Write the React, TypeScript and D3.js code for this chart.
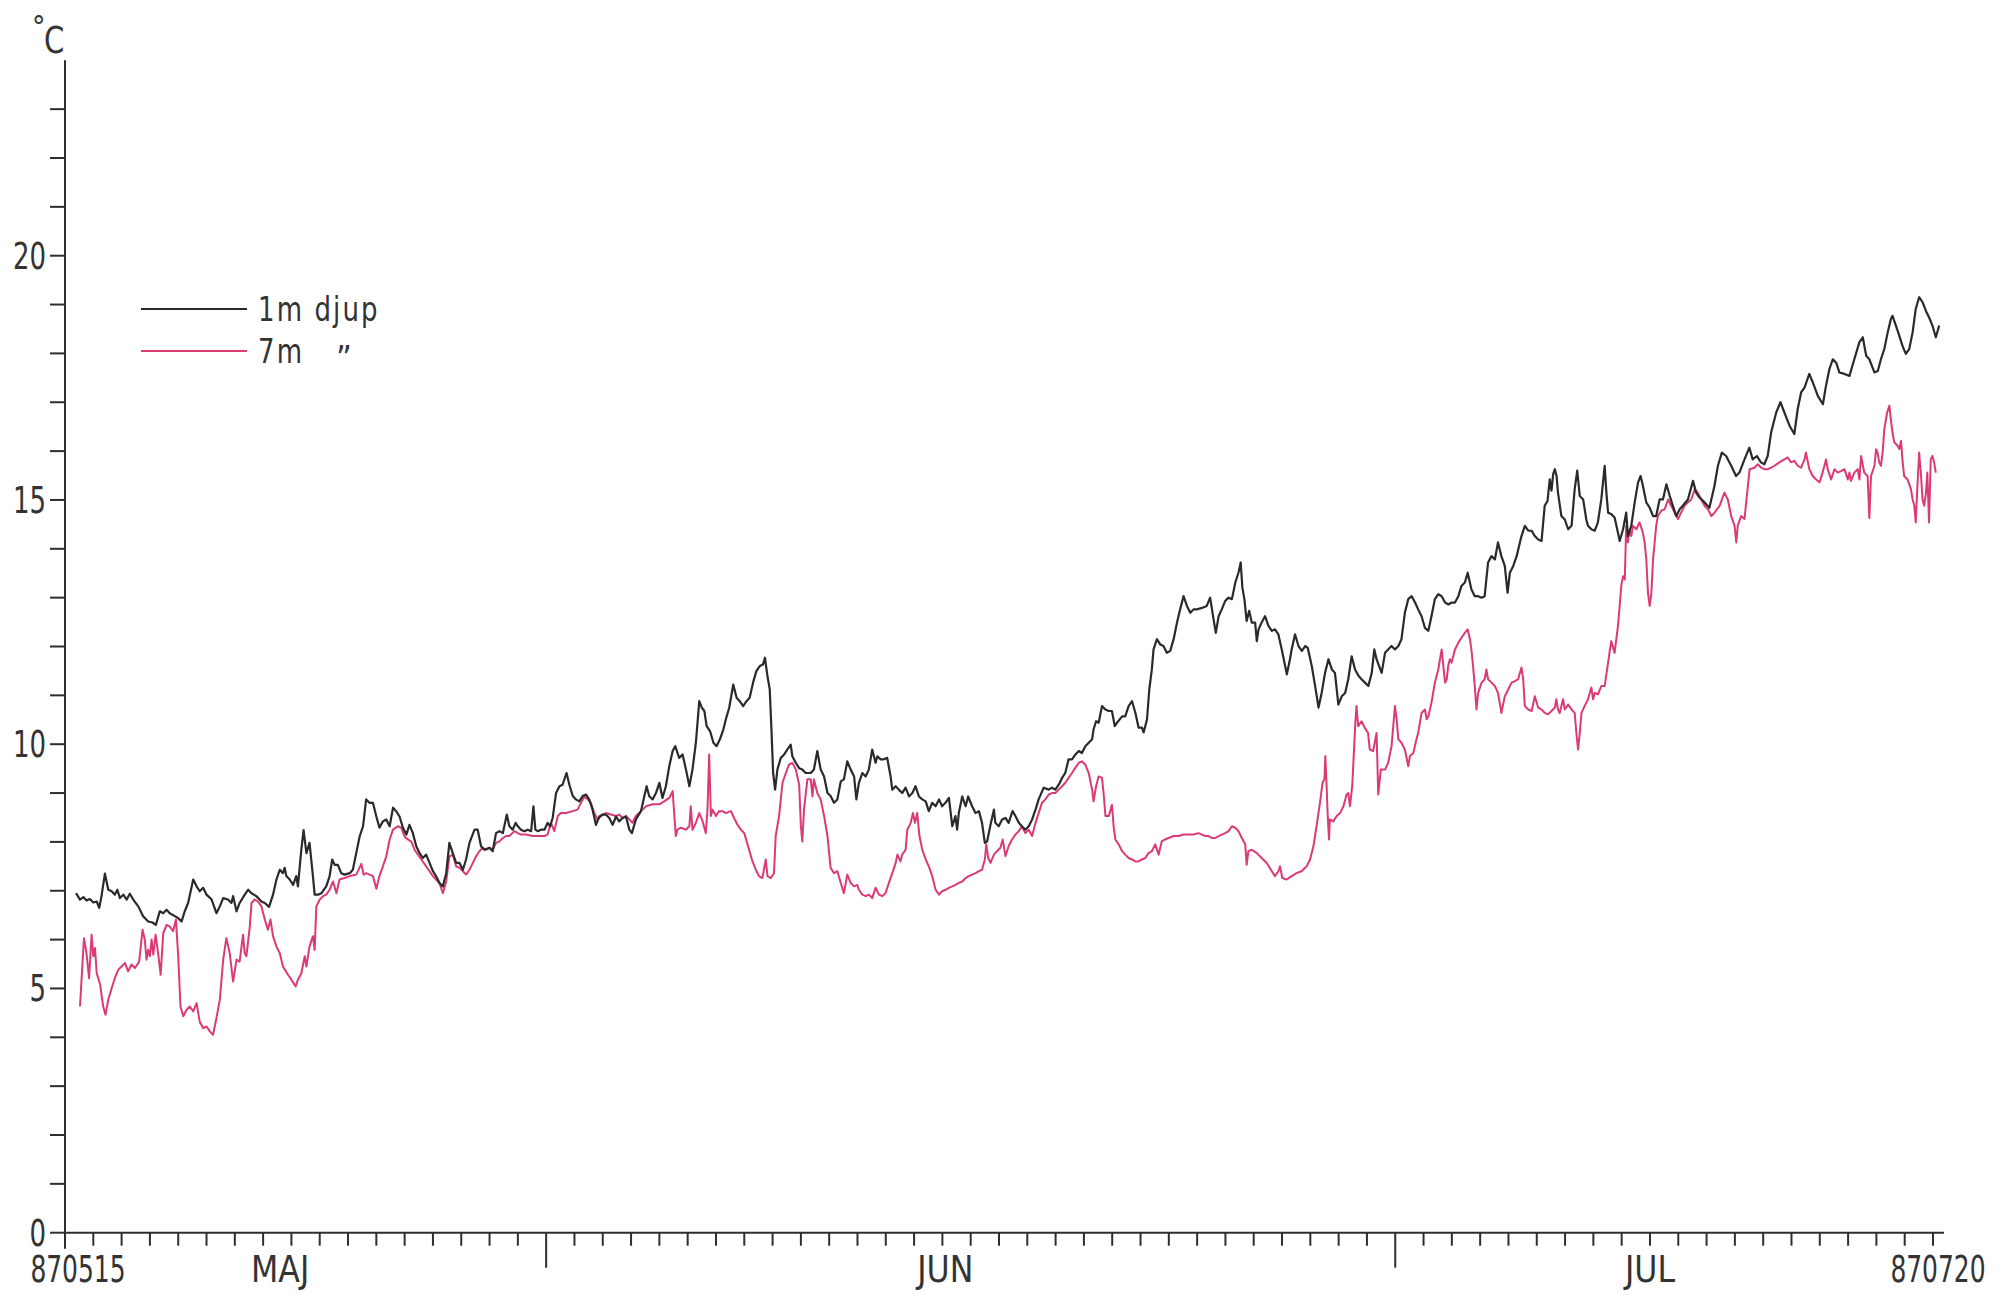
import React from "react";
import * as d3 from "d3";

// Days since 870515 (1987-05-15), temperature in °C
const depth1m: [number, number][] = [
[0.39,6.95],[0.53,6.82],[0.65,6.87],[0.76,6.80],[0.88,6.83],[1.00,6.76],[1.12,6.78],[1.21,6.65],[1.29,6.89],[1.41,7.35],[1.53,7.02],[1.65,6.99],[1.76,6.92],[1.85,7.02],[1.94,6.85],[2.06,6.92],[2.18,6.82],[2.29,6.94],[2.41,6.82],[2.59,6.68],[2.76,6.48],[2.94,6.37],[3.09,6.35],[3.21,6.30],[3.35,6.58],[3.47,6.54],[3.59,6.61],[3.70,6.54],[3.88,6.48],[4.00,6.44],[4.12,6.37],[4.23,6.58],[4.35,6.75],[4.53,7.23],[4.65,7.09],[4.76,6.99],[4.88,7.06],[5.00,6.92],[5.18,6.82],[5.35,6.54],[5.47,6.68],[5.59,6.85],[5.76,6.82],[5.88,6.75],[5.94,6.89],[6.06,6.58],[6.17,6.75],[6.35,6.92],[6.47,7.02],[6.59,6.95],[6.76,6.89],[6.94,6.78],[7.06,6.75],[7.21,6.67],[7.35,6.92],[7.47,7.23],[7.59,7.43],[7.70,7.36],[7.76,7.47],[7.82,7.30],[7.94,7.23],[8.06,7.12],[8.17,7.30],[8.23,7.09],[8.35,7.84],[8.43,8.24],[8.53,7.77],[8.64,7.98],[8.76,7.30],[8.82,6.92],[8.94,6.92],[9.06,6.95],[9.23,7.09],[9.35,7.30],[9.44,7.64],[9.53,7.53],[9.64,7.53],[9.76,7.36],[9.88,7.33],[10.06,7.36],[10.17,7.43],[10.29,7.77],[10.41,8.11],[10.53,8.32],[10.64,8.87],[10.76,8.80],[10.88,8.80],[11.00,8.52],[11.11,8.29],[11.23,8.42],[11.35,8.46],[11.47,8.32],[11.59,8.70],[11.70,8.63],[11.82,8.52],[11.94,8.29],[12.06,8.15],[12.17,8.35],[12.29,8.18],[12.41,7.91],[12.53,7.77],[12.64,7.67],[12.76,7.74],[12.88,7.57],[13.00,7.40],[13.11,7.30],[13.23,7.16],[13.35,7.09],[13.47,7.36],[13.58,7.98],[13.70,7.77],[13.82,7.57],
[13.94,7.57],[14.06,7.43],[14.17,7.64],[14.29,7.98],[14.47,8.25],[14.58,8.25],[14.70,7.91],[14.82,7.84],[15.00,7.88],[15.11,7.81],[15.23,8.18],[15.35,8.22],[15.47,8.18],[15.61,8.56],[15.70,8.32],[15.82,8.25],[15.92,8.39],[16.00,8.32],[16.11,8.25],[16.23,8.22],[16.35,8.25],[16.47,8.22],[16.55,8.73],[16.62,8.25],[16.70,8.22],[16.82,8.25],[16.94,8.25],[17.05,8.39],[17.14,8.32],[17.23,8.49],[17.35,9.00],[17.47,9.14],[17.58,9.17],[17.72,9.41],[17.82,9.17],[17.94,8.94],[18.05,8.87],[18.17,8.83],[18.29,8.94],[18.41,8.97],[18.52,8.87],[18.64,8.66],[18.76,8.35],[18.88,8.52],[19.00,8.56],[19.11,8.56],[19.23,8.49],[19.35,8.35],[19.47,8.52],[19.58,8.42],[19.70,8.49],[19.82,8.52],[19.94,8.25],[20.03,8.18],[20.17,8.46],[20.35,8.63],[20.47,8.94],[20.55,9.14],[20.64,8.94],[20.76,8.87],[20.88,9.00],[21.00,9.21],[21.11,8.90],[21.23,9.14],[21.35,9.55],[21.47,9.86],[21.56,9.96],[21.70,9.72],[21.82,9.79],[21.94,9.48],[22.06,9.14],[22.17,9.48],[22.29,10.03],[22.41,10.88],[22.50,10.75],[22.59,10.68],[22.67,10.37],[22.79,10.27],[22.91,10.03],[23.02,9.96],[23.14,10.10],[23.26,10.30],[23.35,10.51],[23.47,10.75],[23.61,11.22],[23.73,10.95],[23.84,10.88],[23.96,10.78],[24.08,10.88],[24.19,10.95],[24.31,11.26],[24.43,11.50],[24.55,11.60],[24.66,11.63],[24.73,11.77],[24.82,11.39],[24.90,11.12],[24.96,10.30],[25.02,9.41],[25.09,9.07],[25.17,9.48],[25.29,9.72],[25.41,9.79],[25.52,9.89],[25.64,9.99],[25.70,9.75],[25.82,9.62],[25.94,9.51],[26.05,9.48],[26.17,9.41],[26.35,9.41],[26.46,9.48],[26.58,9.86],[26.70,9.48],[26.82,9.34],[26.94,9.00],[27.05,8.94],[27.17,8.80],[27.29,8.87],[27.41,9.24],[27.52,9.28],[27.64,9.65],[27.76,9.48],[27.88,9.34],[27.96,8.87],[28.05,9.21],[28.17,9.41],[28.29,9.34],[28.40,9.48],[28.52,9.89],[28.64,9.62],
[28.70,9.75],[28.82,9.69],[28.93,9.69],[29.05,9.72],[29.17,9.34],[29.23,9.07],[29.35,9.14],[29.46,9.07],[29.58,9.00],[29.70,9.11],[29.82,8.93],[29.94,9.00],[30.05,9.14],[30.17,8.93],[30.29,8.87],[30.41,8.83],[30.52,8.63],[30.64,8.80],[30.76,8.73],[30.88,8.87],[30.99,8.73],[31.11,8.80],[31.23,8.90],[31.35,8.32],[31.46,8.53],[31.52,8.25],[31.58,8.59],[31.70,8.93],[31.82,8.73],[31.91,8.93],[32.05,8.73],[32.17,8.59],[32.29,8.63],[32.40,8.39],[32.50,7.98],[32.58,8.01],[32.70,8.35],[32.82,8.66],[32.87,8.39],[32.99,8.32],[33.11,8.46],[33.23,8.49],[33.34,8.39],[33.48,8.63],[33.58,8.53],[33.70,8.39],[33.81,8.32],[33.93,8.25],[34.05,8.32],[34.17,8.46],[34.29,8.66],[34.40,8.87],[34.58,9.11],[34.76,9.07],[34.87,9.11],[34.99,9.07],[35.11,9.17],[35.23,9.31],[35.34,9.41],[35.46,9.69],[35.58,9.69],[35.70,9.79],[35.82,9.86],[35.93,9.82],[36.05,9.96],[36.17,10.03],[36.29,10.10],[36.34,10.30],[36.43,10.47],[36.52,10.44],[36.64,10.78],[36.76,10.71],[36.88,10.68],[36.99,10.68],[37.09,10.37],[37.17,10.44],[37.35,10.57],[37.46,10.57],[37.58,10.78],[37.70,10.88],[37.82,10.64],[37.93,10.34],[38.05,10.34],[38.11,10.24],[38.23,10.51],[38.31,11.12],[38.40,11.53],[38.46,11.94],[38.58,12.15],[38.70,12.04],[38.81,12.01],[38.93,11.87],[39.05,11.91],[39.17,12.15],[39.29,12.49],[39.40,12.76],[39.52,13.03],[39.64,12.83],[39.76,12.69],[39.87,12.76],[39.99,12.76],[40.17,12.79],[40.34,12.83],[40.46,13.00],[40.58,12.56],[40.66,12.28],[40.76,12.62],[40.87,12.76],[40.99,12.93],[41.11,13.00],[41.23,12.97],[41.35,13.31],[41.46,13.51],[41.54,13.72],[41.60,13.20],[41.67,12.97],[41.75,12.52],[41.84,12.73],[41.93,12.49],[42.05,12.49],[42.11,12.11],
[42.17,12.35],[42.28,12.49],[42.40,12.62],[42.52,12.42],[42.64,12.32],[42.75,12.35],[42.87,12.25],[42.99,11.94],[43.11,11.60],[43.17,11.43],[43.28,11.74],[43.34,11.94],[43.46,12.25],[43.58,12.01],[43.70,11.91],[43.82,12.01],[43.91,11.97],[44.05,11.60],[44.17,11.19],[44.29,10.75],[44.40,11.05],[44.52,11.46],[44.64,11.74],[44.76,11.53],[44.87,11.46],[44.99,10.81],[45.11,10.98],[45.23,11.05],[45.34,11.33],[45.46,11.80],[45.58,11.53],[45.70,11.40],[45.81,11.33],[45.93,11.26],[46.05,11.19],[46.17,11.46],[46.26,11.94],[46.34,11.74],[46.43,11.60],[46.52,11.46],[46.64,11.87],[46.75,11.94],[46.87,12.01],[46.99,11.94],[47.11,12.01],[47.22,12.15],[47.34,12.69],[47.46,12.97],[47.58,13.03],[47.70,12.90],[47.81,12.76],[47.93,12.62],[48.05,12.38],[48.17,12.32],[48.28,12.62],[48.40,12.97],[48.52,13.07],[48.64,13.03],[48.76,12.90],[48.88,12.86],[48.99,12.90],[49.11,12.90],[49.23,13.03],[49.34,13.24],[49.46,13.31],[49.56,13.51],[49.69,13.17],[49.81,13.03],[49.93,13.03],[50.05,13.00],[50.16,13.03],[50.28,13.72],[50.40,13.85],[50.52,13.78],[50.63,14.13],[50.75,13.85],[50.87,13.65],[50.97,13.10],[51.05,13.51],[51.17,13.65],[51.29,13.85],[51.46,14.26],[51.58,14.47],[51.70,14.37],[51.82,14.37],[51.93,14.26],[52.05,14.19],[52.17,14.16],[52.28,14.88],[52.38,14.98],[52.46,15.42],[52.52,15.19],[52.58,15.53],[52.64,15.63],[52.70,15.49],[52.75,15.15],[52.87,14.67],[52.99,14.60],[53.11,14.40],[53.23,14.47],[53.34,15.22],[53.43,15.60],[53.52,15.08],[53.64,15.01],[53.75,14.60],[53.81,14.47],[53.93,14.40],[54.05,14.37],
[54.16,14.54],[54.28,15.01],[54.40,15.70],[54.46,15.15],[54.52,14.74],[54.63,14.71],[54.75,14.64],[54.87,14.33],[54.93,14.16],[55.05,14.40],[55.16,14.74],[55.22,14.26],[55.34,14.47],[55.46,14.95],[55.58,15.36],[55.67,15.49],[55.75,15.29],[55.87,14.95],[55.99,14.84],[56.11,14.67],[56.22,14.67],[56.34,15.01],[56.46,15.01],[56.58,15.32],[56.70,15.08],[56.81,14.88],[56.93,14.67],[57.05,14.81],[57.16,14.88],[57.34,15.01],[57.52,15.39],[57.63,15.15],[57.75,15.05],[57.93,14.95],[58.10,14.84],[58.28,15.29],[58.40,15.70],[58.54,15.97],[58.69,15.90],[58.87,15.70],[59.04,15.49],[59.16,15.56],[59.34,15.83],[59.51,16.07],[59.63,15.83],[59.78,15.90],[59.92,15.77],[60.04,15.73],[60.16,15.90],[60.28,16.38],[60.46,16.79],[60.61,17.00],[60.75,16.79],[60.93,16.52],[61.10,16.35],[61.22,16.86],[61.34,17.20],[61.46,17.30],[61.63,17.58],[61.75,17.41],[61.93,17.13],[62.11,16.96],[62.22,17.34],[62.34,17.68],[62.46,17.88],[62.58,17.81],[62.69,17.61],[62.87,17.58],[63.05,17.54],[63.22,17.88],[63.40,18.23],[63.52,18.33],[63.64,17.95],[63.75,17.88],[63.93,17.61],[64.05,17.64],[64.16,17.88],[64.28,18.09],[64.40,18.43],[64.51,18.70],[64.57,18.77],[64.69,18.57],[64.81,18.36],[64.92,18.16],[65.04,17.99],[65.16,18.09],[65.28,18.43],[65.39,18.91],[65.51,19.15],[65.63,19.05],[65.75,18.87],[65.86,18.74],[65.98,18.57],[66.10,18.33],[66.22,18.57]
];

const depth7m: [number, number][] = [
[0.53,4.63],[0.67,6.03],[0.76,5.72],[0.85,5.21],[0.94,6.10],[1.00,5.66],[1.06,5.83],[1.12,5.31],[1.24,5.08],[1.35,4.63],[1.43,4.46],[1.53,4.77],[1.65,5.01],[1.76,5.21],[1.88,5.38],[2.00,5.45],[2.12,5.52],[2.23,5.35],[2.35,5.49],[2.47,5.42],[2.62,5.55],[2.74,6.20],[2.82,6.00],[2.88,5.59],[2.94,5.79],[3.00,5.66],[3.06,6.00],[3.12,5.69],[3.20,6.10],[3.29,5.72],[3.38,5.28],[3.47,6.13],[3.59,6.30],[3.70,6.27],[3.82,6.17],[3.92,6.41],[4.00,5.66],[4.08,4.63],[4.18,4.43],[4.29,4.56],[4.41,4.63],[4.53,4.53],[4.65,4.70],[4.76,4.32],[4.88,4.19],[5.00,4.22],[5.12,4.12],[5.23,4.05],[5.35,4.39],[5.47,4.77],[5.59,5.59],[5.70,6.03],[5.82,5.72],[5.94,5.14],[6.06,5.59],[6.17,5.55],[6.29,6.10],[6.35,5.72],[6.41,5.66],[6.53,6.27],[6.59,6.75],[6.70,6.82],[6.82,6.78],[6.94,6.68],[7.06,6.41],[7.17,6.20],[7.26,6.41],[7.35,6.07],[7.47,5.86],[7.59,5.72],[7.70,5.45],[7.88,5.28],[8.00,5.18],[8.15,5.04],[8.23,5.18],[8.35,5.31],[8.47,5.66],[8.53,5.45],[8.64,5.86],[8.76,6.07],[8.82,5.79],[8.88,6.68],[9.00,6.82],[9.12,6.89],[9.23,6.92],[9.35,7.02],[9.47,7.19],[9.59,6.95],[9.70,7.23],[9.88,7.26],[10.06,7.30],[10.29,7.33],[10.47,7.55],[10.55,7.33],[10.64,7.36],[10.76,7.33],[10.88,7.30],[11.00,7.04],[11.11,7.30],[11.23,7.50],[11.35,7.70],[11.47,8.05],[11.59,8.25],[11.76,8.32],[11.88,8.29],[12.00,8.11],[12.11,8.05],[12.23,8.01],[12.35,7.84],[12.47,7.74],[12.59,7.64],[12.76,7.50],[12.88,7.40],[13.00,7.30],[13.11,7.23],[13.23,7.16],[13.35,6.95],[13.47,7.19],[13.58,7.70],[13.70,7.74],[13.82,7.50],
[13.94,7.47],[14.06,7.40],[14.17,7.33],[14.29,7.43],[14.41,7.57],[14.53,7.71],[14.64,7.81],[14.76,7.88],[14.88,7.84],[15.00,7.88],[15.11,7.84],[15.23,7.98],[15.35,8.01],[15.47,8.08],[15.58,8.12],[15.70,8.12],[15.88,8.22],[16.00,8.18],[16.11,8.15],[16.29,8.15],[16.52,8.12],[16.76,8.12],[16.94,8.12],[17.05,8.15],[17.17,8.39],[17.29,8.22],[17.41,8.53],[17.52,8.59],[17.70,8.59],[17.94,8.63],[18.11,8.66],[18.23,8.80],[18.35,8.93],[18.47,8.87],[18.58,8.80],[18.70,8.59],[18.82,8.46],[19.00,8.56],[19.11,8.59],[19.29,8.56],[19.47,8.53],[19.58,8.56],[19.70,8.49],[19.82,8.53],[19.94,8.46],[20.05,8.39],[20.17,8.53],[20.35,8.63],[20.53,8.73],[20.76,8.77],[21.00,8.77],[21.17,8.83],[21.35,8.90],[21.47,9.04],[21.53,8.53],[21.58,8.12],[21.64,8.25],[21.76,8.29],[21.94,8.25],[22.06,8.32],[22.11,8.73],[22.17,8.25],[22.29,8.39],[22.41,8.59],[22.53,8.42],[22.64,8.18],[22.70,8.66],[22.76,9.79],[22.82,8.53],[22.88,8.66],[23.00,8.53],[23.11,8.63],[23.23,8.63],[23.35,8.59],[23.53,8.63],[23.64,8.49],[23.76,8.35],[23.88,8.25],[24.00,8.18],[24.17,7.84],[24.29,7.60],[24.41,7.43],[24.52,7.30],[24.64,7.26],[24.76,7.64],[24.82,7.30],[24.94,7.26],[25.05,7.36],[25.11,8.12],[25.23,8.53],[25.35,9.21],[25.47,9.41],[25.58,9.58],[25.70,9.62],[25.82,9.48],[25.94,9.17],[26.00,8.32],[26.05,8.01],[26.11,8.66],[26.23,9.28],[26.35,9.28],[26.41,8.93],[26.46,9.28],[26.58,9.00],[26.70,8.87],[26.82,8.53],[26.94,8.12],[27.05,7.47],[27.17,7.36],[27.29,7.40],[27.41,7.16],[27.52,6.95],[27.64,7.33],[27.76,7.16],[27.88,7.09],[27.99,7.12],
[28.05,7.02],[28.17,6.92],[28.29,6.89],[28.40,6.92],[28.52,6.85],[28.64,7.06],[28.76,6.92],[28.88,6.89],[28.99,6.95],[29.11,7.16],[29.23,7.36],[29.35,7.57],[29.41,7.74],[29.52,7.60],[29.58,7.74],[29.70,7.84],[29.76,8.25],[29.88,8.39],[29.96,8.59],[30.03,8.39],[30.11,8.59],[30.19,8.12],[30.29,7.84],[30.41,7.64],[30.52,7.50],[30.64,7.30],[30.76,7.02],[30.88,6.92],[30.99,6.99],[31.11,7.02],[31.23,7.06],[31.35,7.09],[31.46,7.12],[31.58,7.16],[31.70,7.19],[31.82,7.26],[31.93,7.30],[32.05,7.33],[32.17,7.36],[32.29,7.40],[32.40,7.43],[32.50,7.64],[32.55,7.95],[32.62,7.67],[32.70,7.57],[32.82,7.74],[32.93,7.81],[33.05,7.88],[33.13,8.05],[33.23,7.71],[33.34,7.91],[33.46,8.05],[33.58,8.15],[33.70,8.22],[33.81,8.32],[33.93,8.18],[34.05,8.25],[34.17,8.12],[34.29,8.39],[34.40,8.59],[34.52,8.80],[34.64,8.87],[34.76,8.97],[34.87,9.00],[34.99,9.00],[35.11,9.07],[35.23,9.14],[35.34,9.21],[35.46,9.31],[35.58,9.41],[35.70,9.52],[35.82,9.62],[35.93,9.65],[36.05,9.58],[36.17,9.41],[36.29,9.07],[36.34,8.83],[36.43,9.14],[36.52,9.34],[36.64,9.31],[36.70,8.97],[36.76,8.53],[36.88,8.53],[36.99,8.76],[37.05,8.32],[37.11,8.05],[37.23,7.95],[37.35,7.81],[37.46,7.74],[37.58,7.67],[37.70,7.64],[37.82,7.60],[37.93,7.60],[38.05,7.64],[38.17,7.67],[38.28,7.77],[38.40,7.81],[38.52,7.95],[38.64,7.74],[38.75,8.01],[38.87,8.05],[38.99,8.08],[39.17,8.12],[39.34,8.12],[39.52,8.15],[39.70,8.15],[39.87,8.15],[40.05,8.18],[40.17,8.15],[40.29,8.12],[40.40,8.12],[40.52,8.08],[40.64,8.08],[40.76,8.12],[40.87,8.15],[40.99,8.18],[41.11,8.22],[41.23,8.32],[41.35,8.29],[41.46,8.22],[41.58,8.08],[41.70,7.95],[41.75,7.53],
[41.81,7.81],[41.93,7.84],[42.11,7.77],[42.28,7.67],[42.46,7.57],[42.64,7.40],[42.75,7.30],[42.87,7.40],[42.93,7.50],[43.01,7.26],[43.16,7.23],[43.34,7.30],[43.51,7.36],[43.69,7.40],[43.87,7.50],[43.99,7.64],[44.11,7.91],[44.22,8.32],[44.34,8.80],[44.43,9.21],[44.50,9.28],[44.53,9.76],[44.58,9.07],[44.61,8.59],[44.66,8.05],[44.69,8.46],[44.81,8.42],[44.93,8.53],[45.05,8.59],[45.17,8.73],[45.28,8.97],[45.34,9.00],[45.40,8.73],[45.48,9.14],[45.55,9.96],[45.59,10.44],[45.63,10.78],[45.69,10.37],[45.81,10.47],[45.92,10.34],[46.04,10.23],[46.10,9.89],[46.22,9.86],[46.34,10.23],[46.40,8.97],[46.49,9.48],
[46.64,9.48],[46.75,9.62],[46.87,9.96],[46.99,10.78],[47.05,10.51],[47.11,10.10],[47.22,10.03],[47.34,9.89],[47.46,9.55],[47.52,9.76],[47.64,9.82],[47.75,10.10],[47.81,10.23],[47.93,10.64],[48.05,10.71],[48.11,10.51],[48.17,10.57],[48.28,10.85],[48.40,11.26],[48.52,11.53],[48.64,11.94],[48.70,11.60],[48.76,11.26],[48.82,11.33],[48.87,11.60],[48.93,11.74],[48.99,11.67],[49.11,11.94],[49.23,12.08],[49.34,12.18],[49.46,12.28],[49.56,12.35],[49.64,12.15],[49.69,11.94],[49.75,11.60],[49.81,11.19],[49.87,10.71],[49.93,11.05],[50.05,11.26],[50.16,11.33],[50.22,11.53],[50.28,11.33],[50.40,11.26],[50.52,11.19],[50.63,11.05],[50.75,10.64],[50.87,10.98],[50.99,11.12],[51.11,11.26],[51.23,11.29],[51.34,11.33],[51.46,11.57],[51.52,11.33],[51.58,10.78],[51.70,10.71],[51.82,10.68],[51.93,10.98],[52.05,10.75],[52.17,10.71],[52.28,10.64],[52.40,10.61],[52.52,10.68],[52.64,10.75],[52.69,10.92],[52.75,10.71],[52.81,10.64],[52.87,10.78],[52.93,10.92],[52.99,10.71],[53.11,10.81],[53.23,10.71],[53.34,10.64],[53.40,10.23],[53.46,9.89],[53.52,10.23],[53.58,10.64],[53.69,10.78],[53.81,10.92],[53.93,11.16],[53.99,10.92],[54.05,11.05],[54.16,11.02],[54.28,11.19],[54.40,11.19],[54.52,11.67],[54.63,12.11],[54.75,11.87],[54.87,12.42],[54.93,12.83],[54.99,13.27],[55.05,13.44],[55.11,13.37],
[55.16,14.47],[55.22,14.13],[55.28,14.40],[55.34,14.26],[55.40,14.47],[55.52,14.40],[55.63,14.54],[55.75,14.33],[55.81,14.13],[55.87,13.79],[55.93,13.10],[55.99,12.83],[56.05,13.10],[56.11,13.79],[56.22,14.47],[56.28,14.67],[56.40,14.78],[56.52,14.81],[56.64,15.01],[56.75,14.88],[56.87,14.74],[56.99,14.61],[57.10,14.74],[57.22,14.88],[57.34,14.95],[57.46,15.01],[57.58,15.22],[57.69,15.15],[57.81,15.01],[57.93,14.88],[58.05,14.81],[58.17,14.67],[58.28,14.74],[58.46,14.88],[58.63,15.15],[58.75,15.01],[58.87,14.67],[58.99,14.47],[59.05,14.13],[59.10,14.47],[59.22,14.67],[59.34,14.61],[59.46,15.29],[59.52,15.63],[59.69,15.66],[59.81,15.73],[59.93,15.66],[60.04,15.63],[60.16,15.63],[60.28,15.66],[60.40,15.70],[60.57,15.77],[60.75,15.83],[60.87,15.87],[60.98,15.77],[61.10,15.80],[61.22,15.70],[61.34,15.66],[61.46,15.83],[61.51,15.97],[61.63,15.63],[61.75,15.49],[61.87,15.42],[61.99,15.36],[62.10,15.56],[62.22,15.83],[62.28,15.63],[62.40,15.42],[62.52,15.63],[62.63,15.56],[62.75,15.59],[62.87,15.63],[62.99,15.42],[63.05,15.56],[63.10,15.39],[63.22,15.56],[63.34,15.63],[63.40,15.42],[63.46,15.90],[63.57,15.56],[63.69,15.49],[63.75,14.63],[63.81,15.49],[63.93,15.70],[63.99,16.04],[64.04,15.97],[64.10,15.77],[64.16,15.70],[64.22,15.97],[64.28,16.45],[64.38,16.79],[64.46,16.93],[64.51,16.65],[64.57,16.38],[64.63,16.18],[64.75,16.11],[64.81,16.04],[64.87,16.21],[64.92,15.83],[64.98,15.49],[65.10,15.42],[65.22,15.22],[65.28,15.01],[65.34,14.88],[65.39,14.54],[65.45,15.29],[65.51,15.97],[65.57,15.56],[65.63,15.01],[65.69,14.88],[65.75,15.15],[65.80,15.56],[65.86,14.54],[65.92,15.83],[65.98,15.90],[66.04,15.77],[66.10,15.56]
];

const yTickValues = d3.range(0, 24);          // one tick per degree
const yLabelValues = [0, 5, 10, 15, 20];
const dayTicks = d3.range(0, 67);             // daily ticks, 870515 .. 870720
const monthStartDays = [17, 47];              // JUN 1, JUL 1
const monthLabels = [
  { label: "MAJ", day: 7.6 },
  { label: "JUN", day: 31.1 },
  { label: "JUL", day: 56.0 },
];
const endLabels = [
  { label: "870515", day: 0 },
  { label: "870720", day: 66 },
];
const legendItems = [
  { label: "1m djup", ditto: "", color: "#2a2a2a" },
  { label: "7m", ditto: "\u201D", color: "#dc3a75" },
];

const W = 1999;
const H = 1295;
const FONT = "'Liberation Sans Narrow', 'DejaVu Sans Condensed', 'Liberation Sans', sans-serif";
const AXIS = "#2e2e2e";
const INK = "#333";

function SText(props: {
  x: number;
  y: number;
  sx?: number;
  size?: number;
  anchor?: string;
  children: React.ReactNode;
  spacing?: number;
}) {
  const { x, y, sx = 1, size = 37, anchor = "start", children, spacing } = props;
  return (
    <text
      transform={`translate(${x},${y}) scale(${sx},1)`}
      textAnchor={anchor as any}
      fontFamily={FONT}
      fontSize={size}
      fill={INK}
      letterSpacing={spacing}
    >
      {children}
    </text>
  );
}

export default function App() {
  const x = d3.scaleLinear().domain([0, 66]).range([65, 1933]);
  const y = d3.scaleLinear().domain([0, 24]).range([1232.7, 60.3]);
  const line = d3
    .line<[number, number]>()
    .x((d) => x(d[0]))
    .y((d) => y(d[1]));

  const x0 = x(0);
  const y0 = y(0);

  return (
    <svg
      width={W}
      height={H}
      viewBox={`0 0 ${W} ${H}`}
      style={{ position: "absolute", left: 0, top: 0, display: "block", background: "#fff" }}
    >
      <rect x={0} y={0} width={W} height={H} fill="#fff" />

      {/* Y axis */}
      <line x1={x0} x2={x0} y1={y0 + 16} y2={y(24)} stroke={AXIS} strokeWidth={2} />
      {yTickValues.map((v) => (
        <line key={"yt" + v} x1={x0 - 15} x2={x0} y1={y(v)} y2={y(v)} stroke={AXIS} strokeWidth={2} />
      ))}
      {yLabelValues.map((v) => (
        <SText key={"yl" + v} x={x0 - 19} y={y(v) + 13} sx={0.78} anchor="end">
          {v}
        </SText>
      ))}
      <SText x={32} y={37} size={30}>°</SText>
      <SText x={44} y={53} size={38} sx={0.85}>C</SText>

      {/* X axis */}
      <line x1={x0} x2={x(66) + 11} y1={y0} y2={y0} stroke={AXIS} strokeWidth={2} />
      {dayTicks.map((d) => (
        <line
          key={"xt" + d}
          x1={x(d)}
          x2={x(d)}
          y1={y0}
          y2={y0 + (monthStartDays.includes(d) ? 35 : 13)}
          stroke={AXIS}
          strokeWidth={2}
        />
      ))}
      {monthLabels.map((m) => (
        <SText key={m.label} x={x(m.day)} y={1282} anchor="middle" sx={0.95}>
          {m.label}
        </SText>
      ))}
      {endLabels.map((m, i) => (
        <SText key={m.label} x={x(m.day) + (i === 0 ? 13 : 5)} y={1282} anchor="middle" sx={0.75}>
          {m.label}
        </SText>
      ))}

      {/* Series */}
      <path d={line(depth7m) || ""} fill="none" stroke={legendItems[1].color} strokeWidth={2} strokeLinejoin="round" />
      <path d={line(depth1m) || ""} fill="none" stroke={legendItems[0].color} strokeWidth={2.2} strokeLinejoin="round" />

      {/* Legend */}
      {legendItems.map((it, i) => (
        <g key={it.label} transform={`translate(0, ${i * 42})`}>
          <line x1={141} x2={247} y1={309} y2={309} stroke={it.color} strokeWidth={2} />
          <SText x={258} y={321} size={34} sx={0.85} spacing={2.5}>
            {it.label}
          </SText>
          {it.ditto && (
            <SText x={336} y={328} size={34}>
              {it.ditto}
            </SText>
          )}
        </g>
      ))}
    </svg>
  );
}
